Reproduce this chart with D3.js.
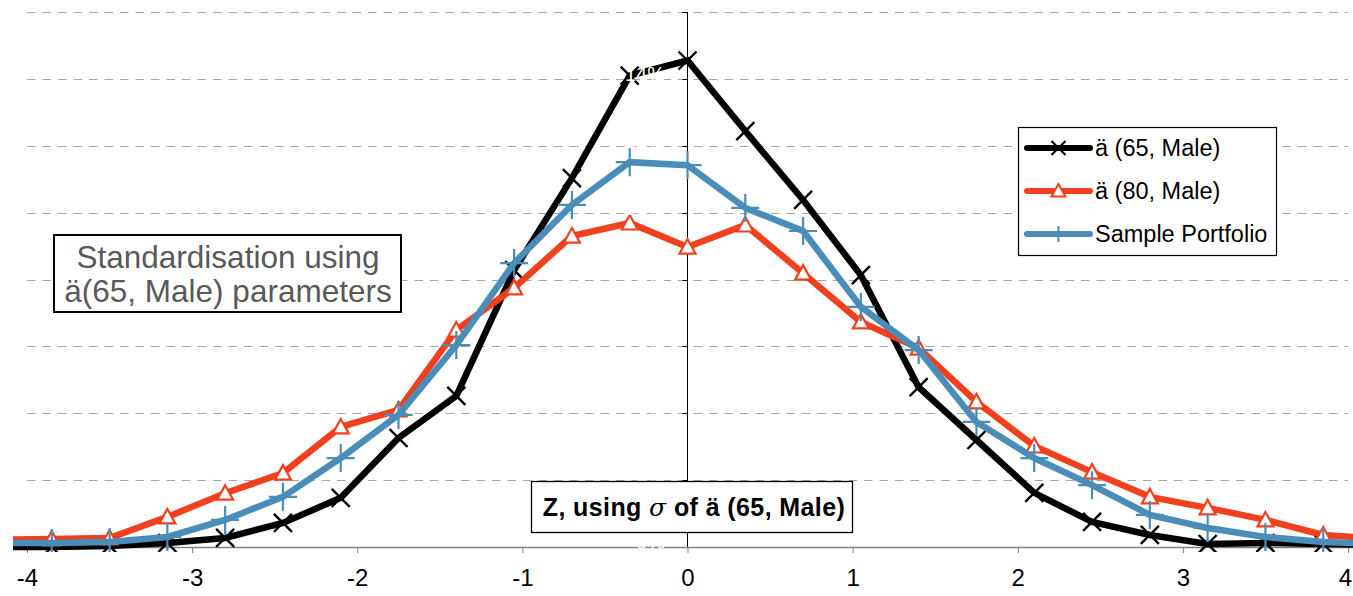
<!DOCTYPE html>
<html><head><meta charset="utf-8">
<script src="https://cdn.jsdelivr.net/npm/d3@7"></script>
<style>body{margin:0;background:#fff}svg{display:block}</style>
</head><body>
<script>
const zValues = [-4.2,-3.85,-3.5,-3.15,-2.8,-2.45,-2.1,-1.75,-1.4,-1.05,-0.7,-0.35,0,0.35,0.7,1.05,1.4,1.75,2.1,2.45,2.8,3.15,3.5,3.85,4.2];
const male65 = [0.00,0.00,0.03,0.12,0.27,0.72,1.47,3.26,4.52,8.28,11.03,14.10,14.55,12.44,10.38,8.13,4.78,3.20,1.62,0.75,0.36,0.09,0.12,0.09,0.06];
const male80 = [0.22,0.24,0.27,0.90,1.61,2.21,3.59,4.10,6.49,7.75,9.30,9.69,8.97,9.63,8.19,6.73,5.95,4.34,3.02,2.24,1.50,1.17,0.81,0.36,0.24];
const sample = [0.12,0.12,0.15,0.30,0.81,1.50,2.66,3.95,6.04,8.49,10.23,11.51,11.42,10.14,9.45,7.18,5.89,3.74,2.66,1.85,0.96,0.57,0.30,0.15,0.09];
const seriesNames = ["ä (65, Male)","ä (80, Male)","Sample Portfolio"];
const xTicks = [-4,-3,-2,-1,0,1,2,3,4];
const yTicks = [0,2,4,6,8,10,12,14,16];
const yLabelTicks = [0,2,4,6,8,10,12,14];
const yTickLabels = ["0%","2%","4%","6%","8%","10%","12%","14%"];

const W=1353,H=596;
const FONT="Liberation Sans, Arial, sans-serif";
const svg=d3.select("body").append("svg").attr("width",W).attr("height",H);
const x=d3.scaleLinear().domain([-4,4]).range([27,1348]);
const y=d3.scaleLinear().domain([0,16]).range([547,12]);
const plotL=13, plotR=1353;

svg.append("defs").append("clipPath").attr("id","clip")
  .append("rect").attr("x",plotL).attr("y",0).attr("width",plotR-plotL).attr("height",552);

// gridlines
svg.append("g").selectAll("line").data(yTicks.slice(1)).join("line")
  .attr("x1",27).attr("x2",1348).attr("y1",d=>Math.round(y(d))+0.5).attr("y2",d=>Math.round(y(d))+0.5)
  .attr("stroke","#a6a6a6").attr("stroke-width",1).attr("stroke-dasharray","8.5,7");

const x0=Math.round(x(0))-0.5;
// vertical axis
svg.append("line").attr("x1",x0).attr("x2",x0).attr("y1",y(16)).attr("y2",y(0)).attr("stroke","#000").attr("stroke-width",1);
svg.append("g").selectAll("line").data(yTicks).join("line")
  .attr("x1",x0-5).attr("x2",x0).attr("y1",d=>Math.round(y(d))+0.5).attr("y2",d=>Math.round(y(d))+0.5)
  .attr("stroke","#000");

// x axis
const xAxis=d3.axisBottom(x).tickValues(xTicks).tickSize(6).tickFormat(d=>d3.format("d")(d).replace("−","-"));
const gx=svg.append("g").attr("transform",`translate(0,${y(0)})`).call(xAxis);
gx.select(".domain").remove();
gx.insert("line",":first-child").attr("x1",plotL).attr("x2",plotR).attr("y1",0.5).attr("y2",0.5).attr("stroke","#808080").attr("stroke-width",1.5);
gx.selectAll(".tick line").attr("stroke","#808080");
gx.selectAll(".tick text").attr("font-family",FONT).attr("font-size",24).attr("fill","#000").attr("y",20).attr("dy","0.8em")
  .attr("x",d=>d===4?-3:0);

const colors=["#000000","#f0401e","#4a8db8"];
const datas=[male65,male80,sample];
const line=d3.line().x((d,i)=>x(zValues[i])).y(d=>y(d));
const plot=svg.append("g").attr("clip-path","url(#clip)");

datas.forEach((vals,si)=>{
  const g=plot.append("g");
  g.append("path").datum(vals).attr("d",line).attr("fill","none").attr("stroke",colors[si]).attr("stroke-width",6.5).attr("stroke-linejoin","miter");
  const pts=vals.map((v,i)=>({x:x(zValues[i]),y:y(v)})).filter(p=>p.x>plotL&&p.x<plotR);
  const m=g.selectAll("g.m").data(pts).join("g").attr("transform",p=>`translate(${p.x},${p.y})`);
  if(si===0){
    m.append("path").attr("d","M-9,-9L9,9M-9,9L9,-9").attr("stroke","#000").attr("stroke-width",2.4);
  } else if(si===1){
    m.append("path").attr("d","M0,-8L8,6.5L-8,6.5Z").attr("fill","#fff").attr("stroke",colors[1]).attr("stroke-width",2.2);
  } else {
    m.append("path").attr("d","M-14,0L14,0M0,-14L0,14").attr("stroke",colors[2]).attr("stroke-width",2.2);
  }
});

// white y labels (drawn on top)
svg.append("g").selectAll("text").data(yLabelTicks).join("text")
  .attr("x",665).attr("y",d=>y(d)).attr("dy","0.1em").attr("text-anchor","end")
  .attr("font-family",FONT).attr("font-size",20).attr("fill","#fff")
  .text((d,i)=>yTickLabels[i]);

// legend
const lg=svg.append("g");
lg.append("rect").attr("x",1018.5).attr("y",127.5).attr("width",258).attr("height",128).attr("fill","#fff").attr("stroke","#000").attr("stroke-width",1.2);
const ly=[148,191,234];
seriesNames.forEach((n,i)=>{
  lg.append("line").attr("x1",1027).attr("x2",1090).attr("y1",ly[i]).attr("y2",ly[i]).attr("stroke",colors[i]).attr("stroke-width",6).attr("stroke-linecap","round");
  const cx=1058.5;
  if(i===0) lg.append("path").attr("d",`M${cx-7},${ly[i]-7}L${cx+7},${ly[i]+7}M${cx-7},${ly[i]+7}L${cx+7},${ly[i]-7}`).attr("stroke","#000").attr("stroke-width",2);
  else if(i===1) lg.append("path").attr("d",`M${cx},${ly[i]-7}L${cx+7},${ly[i]+5.5}L${cx-7},${ly[i]+5.5}Z`).attr("fill","#fff").attr("stroke",colors[1]).attr("stroke-width",2);
  else lg.append("path").attr("d",`M${cx},${ly[i]-8}L${cx},${ly[i]+8}`).attr("stroke",colors[2]).attr("stroke-width",2);
  lg.append("text").attr("x",1095).attr("y",ly[i]).attr("dy","0.36em").attr("font-family",FONT).attr("font-size",23.5).attr("fill","#000").text(n);
});

// standardisation box
const sb=svg.append("g");
sb.append("rect").attr("x",54).attr("y",235).attr("width",347).attr("height",77).attr("fill","#fff").attr("stroke","#000").attr("stroke-width",2);
sb.append("text").attr("x",228).attr("y",268).attr("text-anchor","middle").attr("font-family",FONT).attr("font-size",31.5).attr("fill","#595959").text("Standardisation using");
sb.append("text").attr("x",228).attr("y",302).attr("text-anchor","middle").attr("font-family",FONT).attr("font-size",31.5).attr("fill","#595959").text("ä(65, Male) parameters");

// Z box
const zb=svg.append("g");
zb.append("rect").attr("x",531.5).attr("y",481.5).attr("width",321).attr("height",51).attr("fill","#fff").attr("stroke","#000").attr("stroke-width",1.3);
const zt=zb.append("text").attr("x",694).attr("y",516).attr("text-anchor","middle").attr("font-family",FONT).attr("font-size",25).attr("font-weight","bold").attr("fill","#000").attr("letter-spacing",0.4);
zt.append("tspan").text("Z, using ");
zt.append("tspan").attr("font-style","italic").attr("font-weight","normal").attr("font-family","DejaVu Serif, serif").text("σ");
zt.append("tspan").text(" of ä (65, Male)");
</script>
</body></html>
